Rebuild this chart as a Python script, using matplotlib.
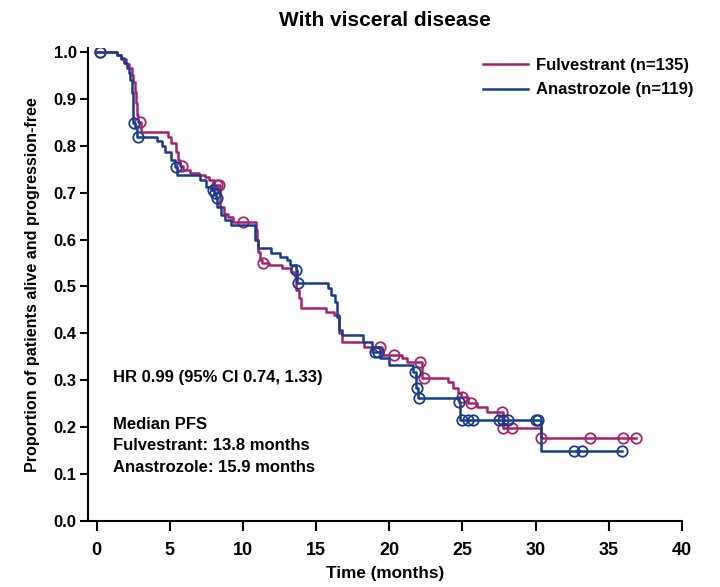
import numpy as np
import matplotlib
matplotlib.use('Agg')
import matplotlib.pyplot as plt

plt.rcParams['font.family'] = ['Liberation Sans', 'DejaVu Sans']
plt.rcParams['font.weight'] = 'bold'

# Kaplan-Meier steps: time of each event (months) and survival after it
fulv_t = [0, 1.4, 1.7, 2.0, 2.2, 2.4, 2.5, 2.6, 2.7, 2.75, 2.8, 3.05, 4.85, 5.1, 5.4,
          5.55, 5.7, 5.9, 6.4, 7.0, 7.4, 7.7, 8.0, 8.4, 8.45, 8.7, 8.95, 9.3, 10.9,
          10.95, 11.0, 11.15, 11.3, 11.8, 12.65, 13.3, 13.55, 13.65, 13.8, 13.95,
          15.7, 16.25, 16.55, 16.6, 16.75, 18.3, 19.5, 19.55, 20.85, 21.2, 22.25,
          24.0, 24.35, 24.7, 24.9, 25.35, 26.0, 26.7, 27.75, 30.35]
fulv_s = [1.0, 0.993, 0.985, 0.975, 0.965, 0.95, 0.935, 0.915, 0.89, 0.865, 0.85, 0.83,
          0.819, 0.806, 0.787, 0.77, 0.757, 0.748, 0.742, 0.738, 0.733, 0.727, 0.716,
          0.69, 0.67, 0.655, 0.648, 0.638, 0.62, 0.6, 0.574, 0.556, 0.55, 0.546, 0.539,
          0.531, 0.52, 0.492, 0.475, 0.454, 0.446, 0.44, 0.42, 0.4, 0.382, 0.372,
          0.362, 0.354, 0.348, 0.339, 0.305, 0.296, 0.284, 0.273, 0.264, 0.252, 0.243,
          0.232, 0.198, 0.177]
fulv_end = 36.9
fulv_cens = [0.2, 2.95, 5.85, 8.2, 8.35, 10.0, 11.4, 19.35, 20.3, 22.1, 22.4, 25.0,
             25.6, 27.7, 27.8, 28.4, 30.4, 33.7, 36.0, 36.9]

anas_t = [0, 1.37, 1.65, 1.85, 2.05, 2.2, 2.3, 2.4, 2.47, 2.52, 2.6, 2.75, 4.1, 4.45,
          4.7, 5.1, 5.35, 5.5, 7.05, 7.45, 7.85, 8.05, 8.15, 8.25, 8.5, 8.8, 9.2, 10.85,
          11.0, 11.95, 12.5, 13.0, 13.25, 13.6, 13.7, 15.8, 16.05, 16.3, 16.45, 16.6,
          16.75, 18.2, 18.85, 19.35, 20.0, 21.6, 21.85, 22.0, 24.75, 24.85, 30.35]
anas_s = [1.0, 0.994, 0.987, 0.977, 0.966, 0.955, 0.94, 0.912, 0.883, 0.849, 0.838,
          0.819, 0.81, 0.8, 0.787, 0.77, 0.755, 0.738, 0.727, 0.712, 0.706, 0.7, 0.689,
          0.67, 0.652, 0.642, 0.631, 0.6, 0.582, 0.571, 0.563, 0.556, 0.546, 0.535,
          0.507, 0.497, 0.482, 0.467, 0.435, 0.407, 0.397, 0.382, 0.36, 0.348, 0.333,
          0.318, 0.283, 0.262, 0.254, 0.215, 0.149]
anas_end = 35.9
anas_cens = [0.2, 2.55, 2.8, 5.4, 7.95, 8.1, 8.2, 13.65, 13.75, 19.0, 19.25, 21.75,
             21.9, 22.05, 24.8, 25.0, 25.35, 25.7, 27.5, 27.8, 28.1, 30.0, 30.2, 32.6,
             33.2, 35.9]

fulv_color = '#a8226a'
anas_color = '#173c8c'


def surv_at(times, surv, t):
    idx = np.searchsorted(times, t, side='right') - 1
    return np.asarray(surv)[idx]


fig = plt.figure(figsize=(7.2, 5.87), dpi=100)
ax = fig.add_axes([0.122, 0.1124, 0.825, 0.806])

for t, s, end, cens, col, lab in [
        (fulv_t, fulv_s, fulv_end, fulv_cens, fulv_color, 'Fulvestrant (n=135)'),
        (anas_t, anas_s, anas_end, anas_cens, anas_color, 'Anastrozole (n=119)')]:
    tt = list(t) + [end]
    ss = list(s) + [s[-1]]
    ax.step(tt, ss, where='post', color=col, lw=1.8, label=lab)
    ax.plot(cens, surv_at(t, s, cens), 'o', ms=7.5, mfc='none', mec=col, mew=1.3)

ax.set_xlim(-0.6, 40)
ax.set_ylim(0, 1.0085)
ax.set_xticks(np.arange(0, 41, 5))
ax.set_yticks(np.arange(0, 1.01, 0.1))
ax.set_yticklabels([f'{v:.1f}' for v in np.arange(0, 1.01, 0.1)])
ax.tick_params(width=1.5, direction='out')
ax.tick_params(axis='x', labelsize=13, length=7, pad=8)
ax.tick_params(axis='y', labelsize=12, length=6, pad=2)
for lab in ax.get_xticklabels() + ax.get_yticklabels():
    lab.set_fontweight('bold')
ax.spines['top'].set_visible(False)
ax.spines['right'].set_visible(False)
ax.spines['left'].set_linewidth(1.5)
ax.spines['bottom'].set_linewidth(1.5)

ax.set_xlabel('Time (months)', fontsize=12.3, fontweight='bold', labelpad=5)
ax.set_ylabel('Proportion of patients alive and progression-free', fontsize=11.6,
              fontweight='bold', labelpad=10)
fig.text(0.535, 0.965, 'With visceral disease', ha='center', va='center',
         fontsize=15, fontweight='bold')

ax.legend(loc='upper right', bbox_to_anchor=(1.045, 1.01), frameon=False,
          handlelength=2.7, handletextpad=0.5, labelspacing=0.55,
          prop={'weight': 'bold', 'size': 12})

ax.text(1.15, 0.305, 'HR 0.99 (95% CI 0.74, 1.33)', fontsize=12, fontweight='bold',
        va='center')
ax.text(1.15, 0.16, 'Median PFS\nFulvestrant: 13.8 months\nAnastrozole: 15.9 months',
        fontsize=12, fontweight='bold', va='center', linespacing=1.56)

fig.savefig('out.png', dpi=100)
